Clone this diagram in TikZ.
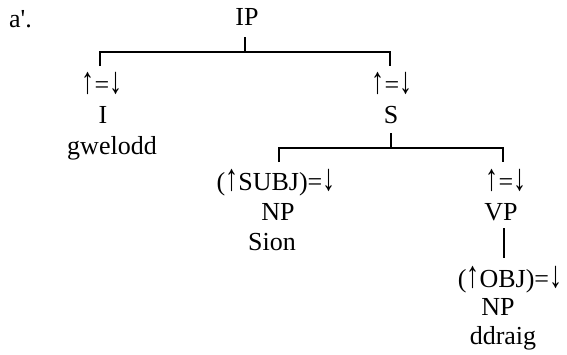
\documentclass[tikz,border=0pt]{standalone}
\usepackage{graphicx}
\usepackage{fontspec}
\setmainfont{Liberation Serif}[Ligatures=TeXOff]
\newcommand{\myup}{\scalebox{1}[1.45]{↑}}
\newcommand{\mydown}{\scalebox{1}[1.45]{↓}}
\begin{document}
\begin{tikzpicture}[x=1pt,y=-1pt,
  lbl/.style={anchor=base,inner sep=0pt,font=\fontsize{26}{30}\selectfont},
  branch/.style={line width=1.6pt}]
\useasboundingbox (0,0) rectangle (567,354);
% labels
\node[lbl,anchor=base west] (ex) at (9,27) {a'.};
\node[lbl] (ip) at (247,25) {IP};
\node[lbl] (eqI) at (102,93) {\myup=\mydown};
\node[lbl] (I) at (103,123) {I};
\node[lbl] (gw) at (112,154) {gwelodd};
\node[lbl] (eqS) at (392,93) {\myup=\mydown};
\node[lbl] (S) at (391,123) {S};
\node[lbl] (subj) at (276,190) {(\myup SUBJ)=\mydown};
\node[lbl] (np1) at (278,220) {NP};
\node[lbl] (sion) at (272,250) {Sion};
\node[lbl] (eqVP) at (506,190) {\myup=\mydown};
\node[lbl] (vp) at (501,220) {VP};
\node[lbl] (obj) at (510,287) {(\myup OBJ)=\mydown};
\node[lbl] (np2) at (498,315) {NP};
\node[lbl] (dd) at (503,344) {ddraig};
% branch points
\coordinate (ipS) at (245,37);
\coordinate (b1m) at (245,52);
\coordinate (b1l) at (100,52);
\coordinate (b1r) at (390,52);
\coordinate (d1l) at (100,66);
\coordinate (d1r) at (390,66);
\coordinate (sS) at (391,133);
\coordinate (b2m) at (391,148);
\coordinate (b2l) at (279,148);
\coordinate (b2r) at (503,148);
\coordinate (d2l) at (279,162);
\coordinate (d2r) at (503,162);
\coordinate (vpT) at (504,228);
\coordinate (vpB) at (504,258);
% connectors
\draw[branch] (ipS) -- (b1m);
\draw[branch] (d1l) -- (b1l) -- (b1r) -- (d1r);
\draw[branch] (sS) -- (b2m);
\draw[branch] (d2l) -- (b2l) -- (b2r) -- (d2r);
\draw[branch] (vpT) -- (vpB);
\end{tikzpicture}
\end{document}
